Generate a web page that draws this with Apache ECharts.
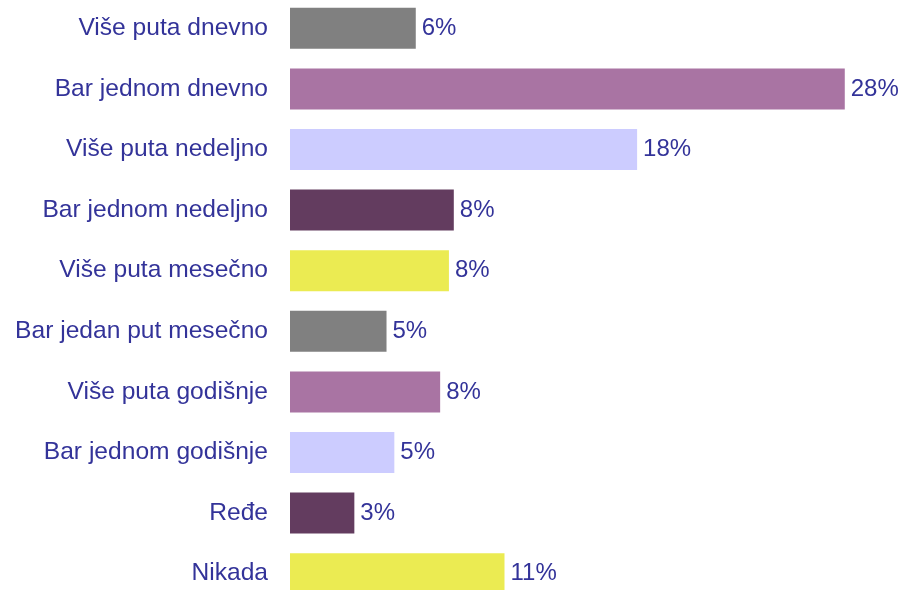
<!DOCTYPE html>
<html>
<head>
<meta charset="utf-8">
<script src="https://cdn.jsdelivr.net/npm/echarts@6/dist/echarts.min.js"></script>
<style>
  html, body { margin: 0; padding: 0; background: #fff; }
  #chart { width: 901px; height: 590px; }
</style>
</head>
<body>
<div id="chart"></div>
<script>
// kategorije odozgo nadole
var categories = ['Više puta dnevno', 'Bar jednom dnevno', 'Više puta nedeljno', 'Bar jednom nedeljno',
    'Više puta mesečno', 'Bar jedan put mesečno', 'Više puta godišnje', 'Bar jednom godišnje', 'Ređe', 'Nikada'];
// procenti (procenjeno sa slike, labela se zaokružuje)
var values = [6.45, 28.45, 17.8, 8.4, 8.15, 4.95, 7.7, 5.35, 3.3, 11.0];
var barColors = ['#808080', '#a974a3', '#ccccff', '#633c5f', '#ebeb52'];

var chart = echarts.init(document.getElementById('chart'));
chart.setOption({
    animation: false,
    grid: {
        left: 290,
        right: 26,
        top: -2,
        height: 606,
        outerBoundsMode: 'none',   // inace v6 steže grid unutar kontejnera
        containLabel: false
    },
    xAxis: {
        type: 'value',
        min: 0,
        max: 30,
        show: false
    },
    yAxis: {
        type: 'category',
        data: categories,
        inverse: true,
        axisLine: { show: false },
        axisTick: { show: false },
        axisLabel: {
            margin: 22,
            color: '#333399',
            fontFamily: 'Liberation Sans',
            fontSize: 24.6
        }
    },
    series: [{
        type: 'bar',
        barWidth: 41,
        data: values.map(function (v, i) {
            return { value: v, itemStyle: { color: barColors[i % barColors.length] } };
        }),
        label: {
            show: true,
            position: 'right',
            distance: 6,
            color: '#333399',
            fontFamily: 'Liberation Sans',
            fontSize: 24,
            formatter: function (p) {
                return Math.round(p.value) + '%';
            }
        }
    }]
});
</script>
</body>
</html>
